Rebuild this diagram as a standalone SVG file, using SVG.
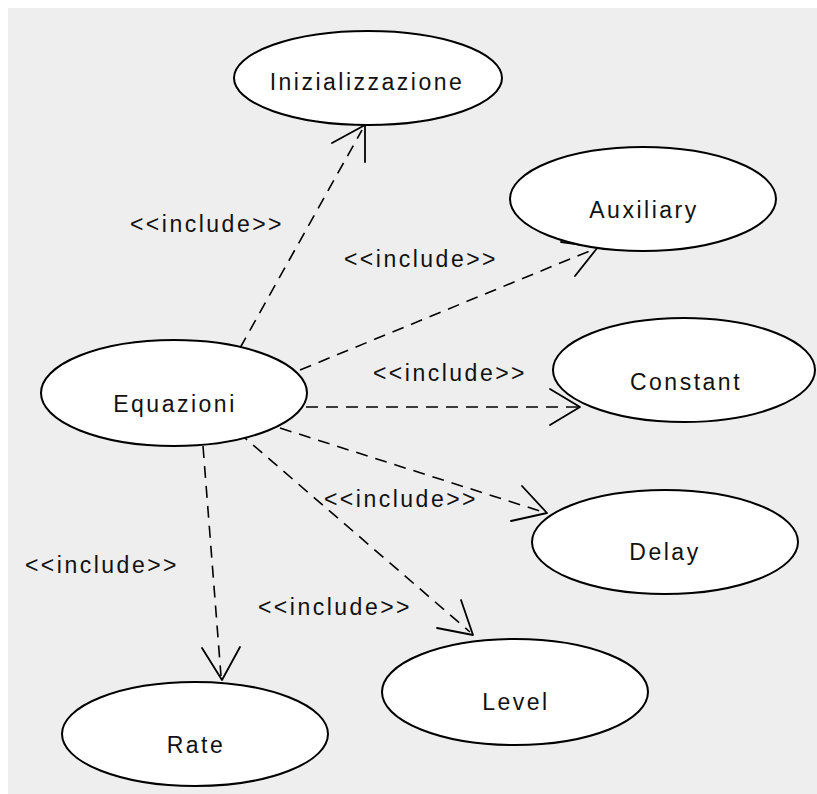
<svg xmlns="http://www.w3.org/2000/svg" width="817" height="794" viewBox="0 0 817 794">
  <style>
    .uc ellipse { fill: #ffffff; stroke: #000000; stroke-width: 2; }
    .uc text, .lbl { font-family: "Liberation Sans", Arial, sans-serif; font-size: 23px; letter-spacing: 2.5px; fill: #111111; text-anchor: middle; }
    .dep { fill: none; stroke: #000000; stroke-width: 1.6; stroke-dasharray: 12 8; }
    .head { fill: none; stroke: #000000; stroke-width: 1.8; stroke-linecap: round; stroke-linejoin: round; }
  </style>

  <rect x="0" y="0" width="817" height="794" fill="#ffffff"/>
  <rect x="8" y="8" width="809" height="786" fill="#eeeeee"/>

  <!-- include dependencies: dashed shafts with open arrowheads -->
  <g id="connectors">
    <line class="dep" x1="240" y1="348" x2="362" y2="130"/>
    <polyline class="head" points="332,143 365,125 365,162"/>

    <line class="dep" x1="300" y1="370" x2="592" y2="250"/>
    <polyline class="head" points="575,276 598,247 561,242"/>

    <line class="dep" x1="306" y1="407" x2="578" y2="407"/>
    <polyline class="head" points="550,389 580,407 550,425"/>

    <line class="dep" x1="280" y1="428" x2="543" y2="512"/>
    <polyline class="head" points="522,486 547,513 511,521"/>

    <line class="dep" x1="238" y1="432" x2="470" y2="632"/>
    <polyline class="head" points="461,600 473,635 437,628"/>

    <line class="dep" x1="203" y1="446" x2="221" y2="676"/>
    <polyline class="head" points="202,648 222,680 240,647"/>
  </g>

  <g id="labels">
    <text class="lbl" x="207" y="232">&lt;&lt;include&gt;&gt;</text>
    <text class="lbl" x="421" y="267">&lt;&lt;include&gt;&gt;</text>
    <text class="lbl" x="450" y="381">&lt;&lt;include&gt;&gt;</text>
    <text class="lbl" x="401" y="507">&lt;&lt;include&gt;&gt;</text>
    <text class="lbl" x="102" y="573">&lt;&lt;include&gt;&gt;</text>
    <text class="lbl" x="335" y="615">&lt;&lt;include&gt;&gt;</text>
  </g>

  <g id="inizializzazione" class="uc">
    <ellipse cx="368" cy="78" rx="134" ry="47"/>
    <text x="367" y="90">Inizializzazione</text>
  </g>
  <g id="auxiliary" class="uc">
    <ellipse cx="643" cy="199" rx="133" ry="52"/>
    <text x="644" y="218">Auxiliary</text>
  </g>
  <g id="constant" class="uc">
    <ellipse cx="684" cy="370" rx="131" ry="52"/>
    <text x="686" y="390">Constant</text>
  </g>
  <g id="equazioni" class="uc">
    <ellipse cx="174" cy="393" rx="133" ry="53"/>
    <text x="175" y="412">Equazioni</text>
  </g>
  <g id="delay" class="uc">
    <ellipse cx="665" cy="542" rx="133" ry="52"/>
    <text x="665" y="560">Delay</text>
  </g>
  <g id="level" class="uc">
    <ellipse cx="515" cy="692" rx="133" ry="53"/>
    <text x="516" y="710">Level</text>
  </g>
  <g id="rate" class="uc">
    <ellipse cx="195" cy="734" rx="133" ry="52"/>
    <text x="196" y="753">Rate</text>
  </g>
</svg>
